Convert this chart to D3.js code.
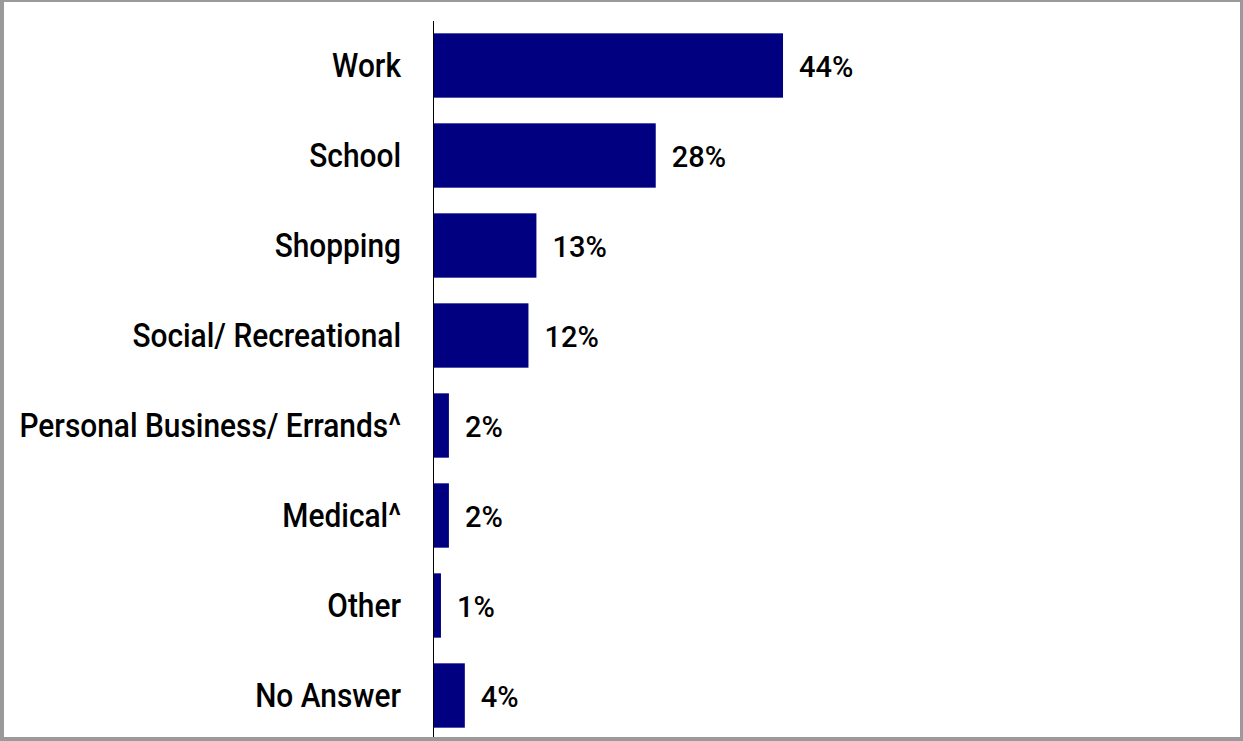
<!DOCTYPE html>
<html>
<head>
<meta charset="utf-8">
<script src="https://cdn.jsdelivr.net/npm/d3@7"></script>
<style>
  html, body { margin: 0; padding: 0; background: #ffffff; }
  svg { display: block; }
</style>
</head>
<body>
<svg id="chart" width="1243" height="741"></svg>
<script>
// Trip purpose shares (percent of respondents)
const categories = [
  "Work",
  "School",
  "Shopping",
  "Social/ Recreational",
  "Personal Business/ Errands^",
  "Medical^",
  "Other",
  "No Answer"
];
const values = [44, 28, 13, 12, 2, 2, 1, 4];
const valueLabels = ["44%", "28%", "13%", "12%", "2%", "2%", "1%", "4%"];

const W = 1243, H = 741;
const svg = d3.select("#chart");

// Frame
svg.append("rect").attr("x", 0).attr("y", 0).attr("width", W).attr("height", H).attr("fill", "#9a9a9a");
svg.append("rect").attr("x", 4).attr("y", 2).attr("width", 1236).attr("height", 735).attr("fill", "#ffffff");

const axisX = 433;
const x = d3.scaleLinear().domain([0, 100]).range([axisX, axisX + 795.5]);
const y = d3.scaleBand()
  .domain(categories)
  .range([20.5, 740.5])
  .paddingInner(0.285)
  .paddingOuter(0.1425);

const labelFont = "Roboto, 'DejaVu Sans Condensed', sans-serif";
// Narrow letterforms: compress glyphs horizontally
const labelSqueeze = 0.905;
const valueSqueeze = 1.0;

// Bars
svg.append("g").selectAll("rect")
  .data(categories)
  .join("rect")
  .attr("x", x(0))
  .attr("y", d => y(d))
  .attr("width", (d, i) => x(values[i]) - x(0))
  .attr("height", y.bandwidth())
  .attr("fill", "#000080");

// Category labels
svg.append("g").selectAll("text")
  .data(categories)
  .join("text")
  .attr("transform", d => `translate(401,${y(d) + y.bandwidth() / 2}) scale(${labelSqueeze},1)`)
  .attr("dy", "0.36em")
  .attr("text-anchor", "end")
  .attr("font-family", labelFont)
  .attr("font-size", 33)
  .attr("font-weight", 500)
  .attr("fill", "#000")
  .text(d => d);

// Value labels
svg.append("g").selectAll("text")
  .data(categories)
  .join("text")
  .attr("transform", (d, i) => `translate(${x(values[i]) + 16},${y(d) + y.bandwidth() / 2 + 1}) scale(${valueSqueeze},1)`)
  .attr("dy", "0.36em")
  .attr("text-anchor", "start")
  .attr("font-family", labelFont)
  .attr("font-size", 29)
  .attr("font-weight", 500)
  .attr("fill", "#000")
  .text((d, i) => valueLabels[i]);

// Category axis line
svg.append("line")
  .attr("x1", axisX + 0.5).attr("x2", axisX + 0.5)
  .attr("y1", 21).attr("y2", 737)
  .attr("stroke", "#000").attr("stroke-width", 1);
</script>
</body>
</html>
